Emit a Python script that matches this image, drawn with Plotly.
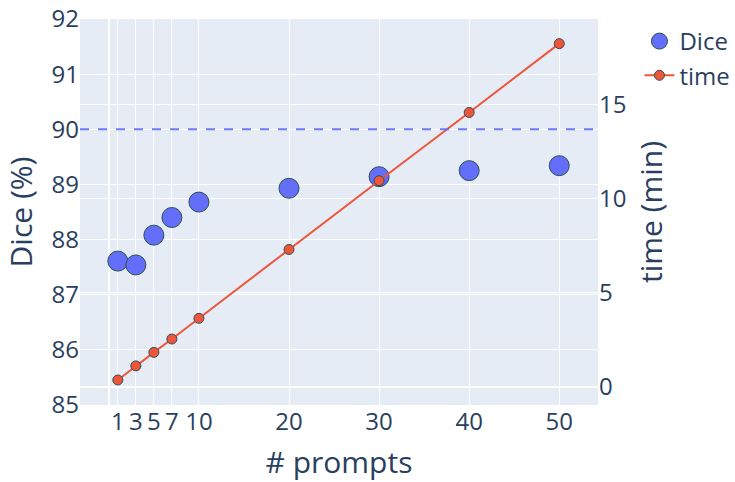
import plotly.graph_objects as go
from plotly.subplots import make_subplots

# number of prompts used
prompts = [1, 3, 5, 7, 10, 20, 30, 40, 50]
# segmentation Dice score (%)
dice = [87.61, 87.54, 88.08, 88.40, 88.68, 88.93, 89.14, 89.25, 89.34]
# inference time (minutes)
time_min = [0.37, 1.12, 1.84, 2.55, 3.65, 7.31, 10.97, 14.60, 18.26]
# reference Dice level
dice_ref = 90

x_tickvals = [0, 1, 3, 5, 7, 10, 20, 30, 40, 50]
x_ticktext = ["", "1", "3", "5", "7", "10", "20", "30", "40", "50"]

fig = make_subplots(specs=[[{"secondary_y": True}]])

fig.add_trace(
    go.Scatter(
        x=prompts, y=dice, mode="markers", name="Dice",
        marker=dict(size=20, color="#636efa",
                    line=dict(width=1, color="DarkSlateGrey")),
    ),
    secondary_y=False,
)
fig.add_trace(
    go.Scatter(
        x=prompts, y=time_min, mode="lines+markers", name="time",
        line=dict(color="#ef553b", width=2),
        marker=dict(size=10, color="#ef553b",
                    line=dict(width=1, color="DarkSlateGrey")),
    ),
    secondary_y=True,
)

fig.add_hline(y=dice_ref, line_dash="dash", line_color="#636efa",
              line_width=2, opacity=0.9)

fig.update_layout(
    template="plotly",
    width=735, height=482,
    margin=dict(l=80, r=137, t=19, b=77, autoexpand=False),
    font=dict(family="Open Sans, verdana, arial, sans-serif", size=24,
              color="#2a3f5f"),
    legend=dict(x=1.08, y=1.0, xanchor="left", yanchor="top",
                font=dict(size=24)),
)
fig.update_xaxes(
    title=dict(text="# prompts", font=dict(size=30)),
    tickvals=x_tickvals, ticktext=x_ticktext,
    range=[-3.2, 54.3], domain=[0, 1], automargin=False,
)
fig.update_yaxes(
    title=dict(text="Dice (%)", font=dict(size=30)),
    range=[85, 92], dtick=1, automargin=False,
    secondary_y=False,
)
fig.update_yaxes(
    title=dict(text="time (min)", font=dict(size=30)),
    range=[-0.96, 19.57], tickvals=[0, 5, 10, 15], automargin=False,
    secondary_y=True,
)

fig.write_html("out.html")
